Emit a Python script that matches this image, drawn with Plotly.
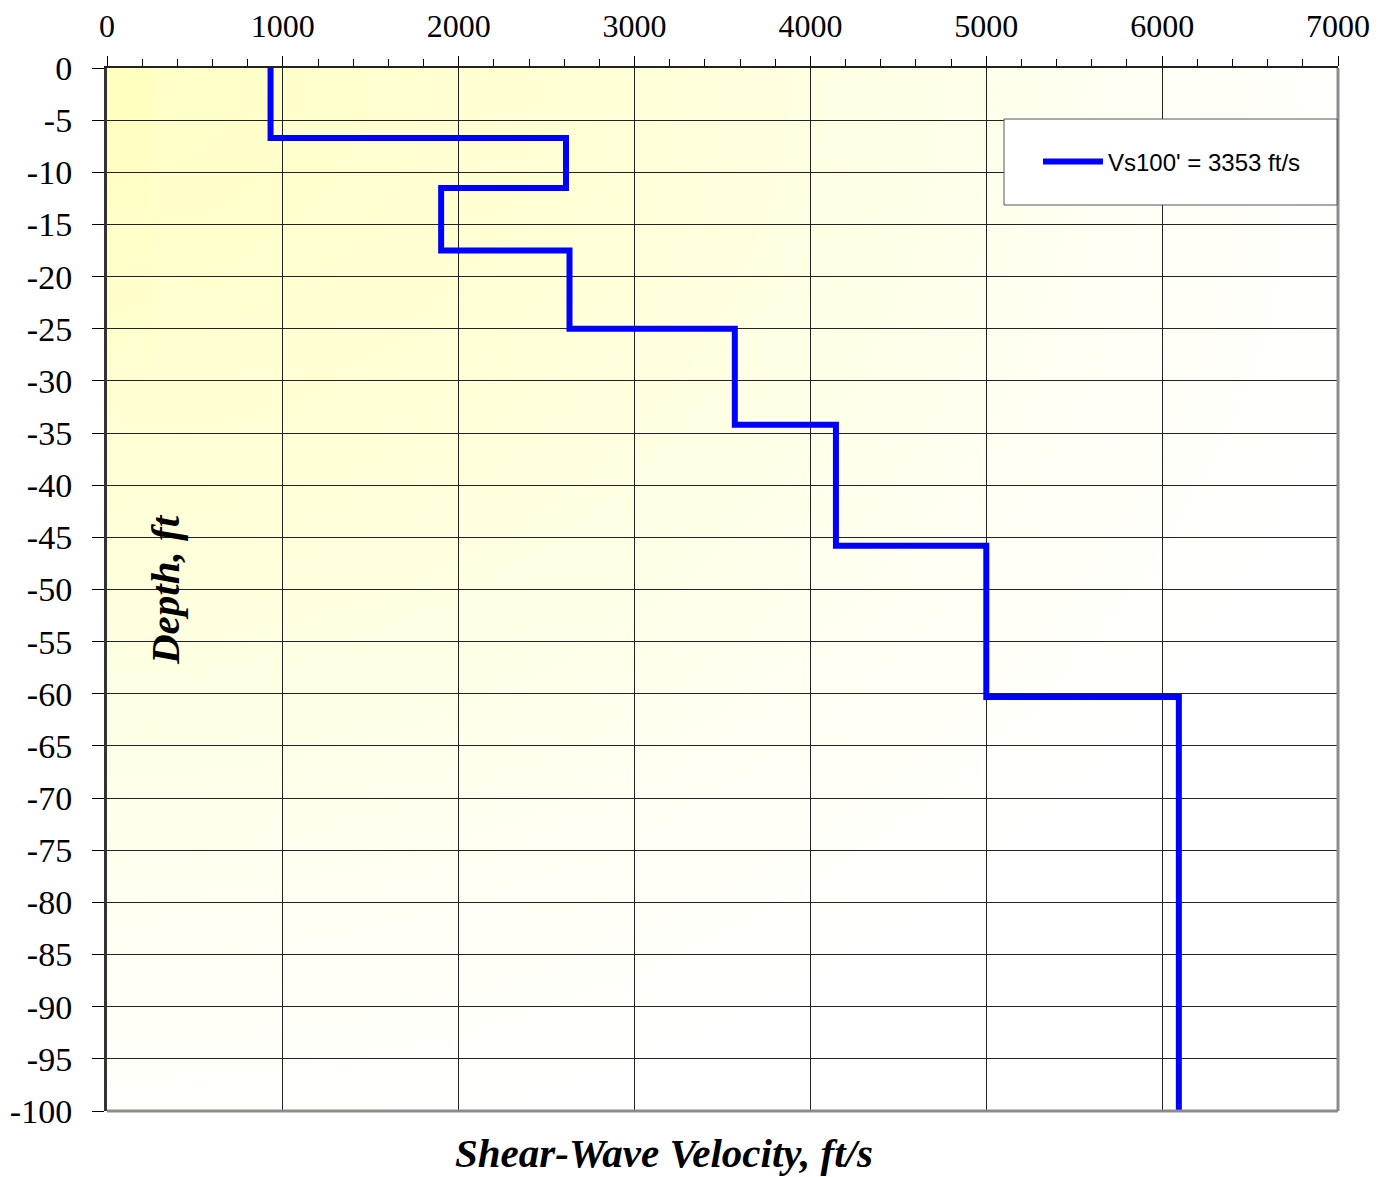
import base64
import plotly.graph_objects as go

# Layer data
layer_tops_ft = [0, -6.7, -11.5, -17.5, -25.0, -34.2, -45.8, -60.3]
profile_bottom_ft = -100
velocity_fts = [930, 2610, 1900, 2630, 3570, 4145, 5000, 6095]
series_name = "Vs100' = 3353 ft/s"

x_ticks = [0, 1000, 2000, 3000, 4000, 5000, 6000, 7000]
y_ticks = list(range(0, -101, -5))

# Build step profile from layers
bottoms = layer_tops_ft[1:] + [profile_bottom_ft]
xs, ys = [], []
for v, top, bot in zip(velocity_fts, layer_tops_ft, bottoms):
    xs += [v, v]
    ys += [top, bot]

fig = go.Figure()
fig.add_trace(go.Scatter(
    x=xs, y=ys, mode="lines", name=series_name,
    line=dict(color="#0000FF", width=6),
    showlegend=True,
))

# Background gradient (pale yellow top-left fading to white)
svg = """<svg xmlns='http://www.w3.org/2000/svg' width='1231' height='1043' preserveAspectRatio='none'>
<defs>
<radialGradient id='g' cx='0' cy='0' r='1.15' gradientUnits='objectBoundingBox'>
<stop offset='0' stop-color='#FFFFC6'/>
<stop offset='0.35' stop-color='#FFFFD6'/>
<stop offset='0.7' stop-color='#FFFFF2'/>
<stop offset='0.92' stop-color='#FFFFFF'/>
</radialGradient>
<linearGradient id='h' x1='0' y1='0' x2='0.04' y2='0.6'>
<stop offset='0' stop-color='#FFFF90' stop-opacity='0.15'/>
<stop offset='1' stop-color='#FFFF90' stop-opacity='0'/>
</linearGradient>
</defs>
<rect width='1231' height='1043' fill='url(#g)'/>
<rect width='45' height='600' fill='url(#h)'/>
</svg>"""
src = "data:image/svg+xml;base64," + base64.b64encode(svg.encode()).decode()
fig.add_layout_image(dict(
    source=src, xref="x", yref="y", x=0, y=0, sizex=7000, sizey=100,
    xanchor="left", yanchor="top", sizing="stretch", layer="below",
))

serif = "Liberation Serif"

# page body has an 8px margin; compensate so the plot area lands at 107..1338 x 68..1111
OFF = 8
W, H = 1392 - OFF, 1177 - OFF
ML, MT = 107 - OFF, 68 - OFF
MR, MB = 54, 66
PW, PH = W - ML - MR, H - MT - MB


def px(xpix):
    return (xpix - 107) / PW


def py(ypix):
    return (1111 - ypix) / PH


fig.update_layout(
    width=W, height=H,
    margin=dict(l=ML, r=MR, t=MT, b=MB, autoexpand=False),
    paper_bgcolor="white",
    plot_bgcolor="rgba(0,0,0,0)",
    font=dict(family=serif, color="black"),
    legend=dict(
        x=px(1038), y=py(162), xanchor="left", yanchor="middle",
        bgcolor="rgba(0,0,0,0)", borderwidth=0, itemwidth=60,
        font=dict(family="Liberation Sans", size=24, color="black"),
    ),
    xaxis=dict(
        side="top", range=[0, 7000], tickvals=x_ticks,
        ticktext=[str(t) for t in x_ticks], automargin=False,
        showgrid=True, gridcolor="#222222", gridwidth=1,
        zeroline=False, showline=True, linecolor="#222222", linewidth=2,
        ticks="outside", ticklen=10, tickcolor="black", tickwidth=1,
        tickfont=dict(family=serif, size=32, color="black"),
        ticklabelstandoff=6,
        minor=dict(dtick=200, ticks="outside", ticklen=7, tickcolor="black", showgrid=False),
        fixedrange=True,
    ),
    yaxis=dict(
        range=[-100, 0], tickvals=y_ticks, ticktext=[str(t) for t in y_ticks],
        automargin=False,
        showgrid=True, gridcolor="#222222", gridwidth=1,
        zeroline=False, showline=True, linecolor="#333333", linewidth=3,
        ticks="outside", ticklen=12, tickcolor="black", tickwidth=1,
        tickfont=dict(family=serif, size=34, color="black"),
        ticklabelstandoff=13,
        fixedrange=True,
    ),
    shapes=[
        dict(type="line", xref="paper", yref="paper", x0=0, x1=1, y0=0, y1=0,
             line=dict(color="#8C8C8C", width=3), layer="above"),
        dict(type="line", xref="paper", yref="paper", x0=1, x1=1, y0=0, y1=1,
             line=dict(color="#8C8C8C", width=3), layer="above"),
        dict(type="rect", xref="paper", yref="paper",
             x0=px(1004), x1=px(1337), y0=py(205), y1=py(119),
             line=dict(color="#555555", width=1), fillcolor="white", layer="above"),
    ],
    annotations=[
        dict(text="<b><i>Shear-Wave Velocity, ft/s</i></b>", xref="paper", yref="paper",
             x=px(664), y=py(1153), xanchor="center", yanchor="middle",
             showarrow=False, font=dict(family=serif, size=41, color="black")),
        dict(text="<b><i>Depth, ft</i></b>", xref="paper", yref="paper",
             x=px(165), y=py(590), xanchor="center", yanchor="middle",
             textangle=-90, showarrow=False, font=dict(family=serif, size=41, color="black")),
    ],
)

fig.write_html("out.html")
